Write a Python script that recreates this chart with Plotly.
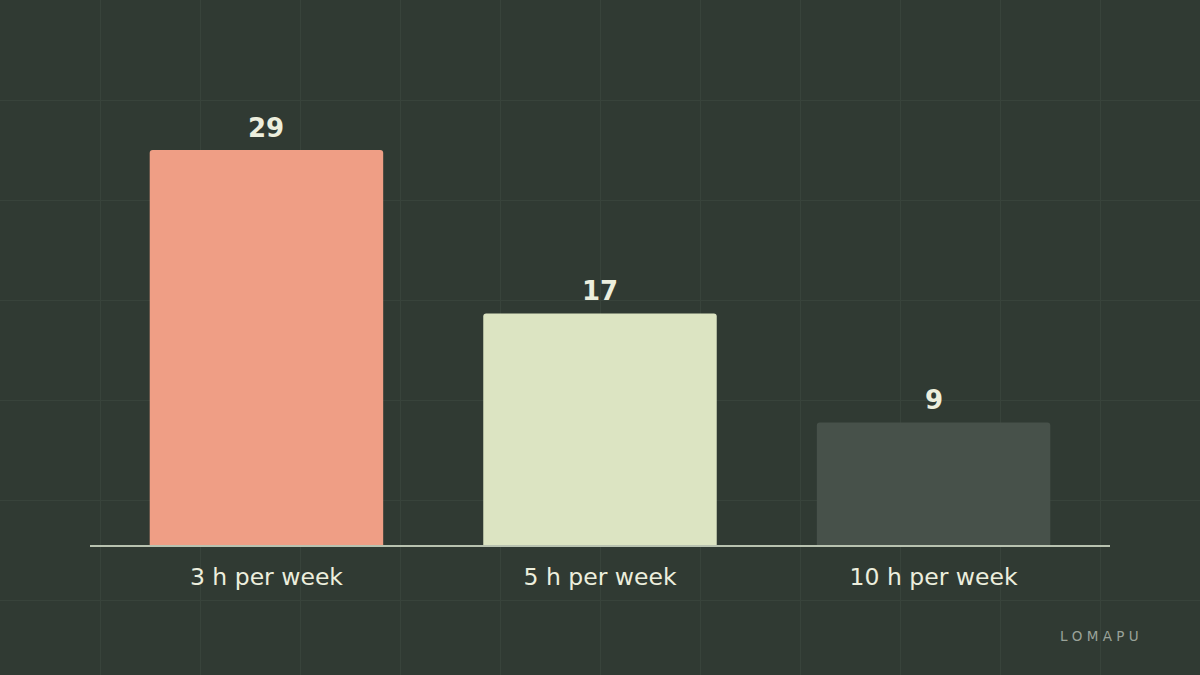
import plotly.graph_objects as go

# chart data
categories = ["3 h per week", "5 h per week", "10 h per week"]
values = [29, 17, 9]
bar_colors = ["#EF9E85", "#DCE4C2", "#47514A"]

bg = "#303A33"
grid_color = "#38433B"
text_color = "#ECEEDD"

fig = go.Figure()

# invisible full-page axes (x/y) just for the background grid, drawn first
fig.add_trace(go.Scatter(x=[0], y=[0], mode="markers",
                         marker=dict(opacity=0), hoverinfo="skip", showlegend=False))

fig.add_trace(go.Bar(
    x=categories,
    y=values,
    xaxis="x2", yaxis="y2",
    width=0.7,
    marker=dict(color=bar_colors, line=dict(width=0), cornerradius=3),
    hoverinfo="skip",
    showlegend=False,
))

# value labels above the bars
for c, v in zip(categories, values):
    fig.add_annotation(
        x=c, y=v, xref="x2", yref="y2", text=f"<b>{v}</b>", showarrow=False,
        yanchor="bottom", yshift=5,
        font=dict(family="DejaVu Sans", size=26, color=text_color),
    )

fig.add_annotation(
    text="L O M A P U", xref="paper", yref="paper", x=0.951, y=0.058,
    xanchor="right", yanchor="middle", showarrow=False,
    font=dict(family="DejaVu Sans", size=13.5, color="#9AA39A"),
)

fig.update_layout(
    width=1200, height=675,
    margin=dict(l=0, r=0, t=0, b=0),
    paper_bgcolor=bg, plot_bgcolor="rgba(0,0,0,0)",
    xaxis=dict(
        domain=[0, 1], range=[0, 1200], anchor="y",
        tick0=0, dtick=100, showgrid=True, gridcolor=grid_color, gridwidth=1,
        showticklabels=False, zeroline=False,
    ),
    yaxis=dict(
        domain=[0, 1], range=[675, 0], anchor="x",
        tick0=0, dtick=100, showgrid=True, gridcolor=grid_color, gridwidth=1,
        showticklabels=False, zeroline=False,
    ),
    xaxis2=dict(
        domain=[90 / 1200, 1110 / 1200], anchor="y2",
        range=[-0.529, 2.529],
        showgrid=False, zeroline=False,
        showline=True, linecolor="#B8C2B0", linewidth=2,
        ticks="", ticklabelstandoff=10,
        tickfont=dict(family="DejaVu Sans", size=23.5, color=text_color),
    ),
    yaxis2=dict(
        domain=[130 / 675, 575 / 675], anchor="x2",
        range=[0, 445 / 13.62],
        showgrid=False, zeroline=False, showticklabels=False,
    ),
)

fig.write_html("out.html", config={"displayModeBar": False},
               post_script="document.body.style.margin='0';")
